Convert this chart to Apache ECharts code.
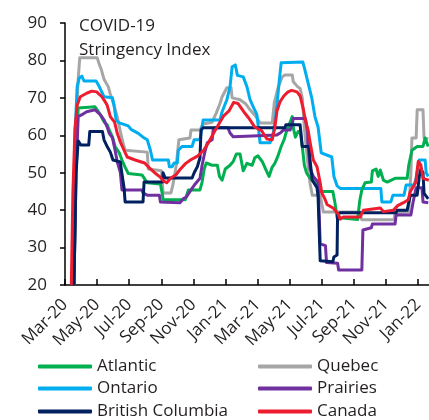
<!DOCTYPE html>
<html>
<head>
<meta charset="utf-8">
<script src="https://cdn.jsdelivr.net/npm/echarts@6/dist/echarts.min.js"></script>
<style>
  html, body { margin: 0; padding: 0; background: #fff; }
  #chart { width: 429px; height: 420px; }
</style>
</head>
<body>
<div id="chart"></div>
<script>
// COVID-19 stringency index by region
var monthLabels = ['Mar-20', 'May-20', 'Jul-20', 'Sep-20', 'Nov-20', 'Jan-21',
                   'Mar-21', 'May-21', 'Jul-21', 'Sep-21', 'Nov-21', 'Jan-22'];

var atlantic = [
    ['2020-03-18', 20], ['2020-03-22', 55], ['2020-03-26', 67.3], ['2020-04-27', 67.6],
    ['2020-05-01', 66.8], ['2020-05-07', 65.5], ['2020-05-14', 63.6], ['2020-05-20', 62.8],
    ['2020-05-24', 61.4], ['2020-05-30', 59.6], ['2020-06-04', 57], ['2020-06-12', 55.3],
    ['2020-06-17', 53.4], ['2020-06-23', 51.5], ['2020-06-29', 49.8], ['2020-07-25', 49.4],
    ['2020-08-04', 47.3], ['2020-08-29', 47], ['2020-09-02', 44], ['2020-09-03', 42.8],
    ['2020-10-15', 42.8], ['2020-10-19', 44.5], ['2020-10-21', 45.4], ['2020-11-12', 45.4],
    ['2020-11-16', 47.5], ['2020-11-20', 51], ['2020-11-24', 52.6], ['2020-12-05', 52],
    ['2020-12-15', 52], ['2020-12-19', 49], ['2020-12-24', 48], ['2020-12-30', 51],
    ['2021-01-08', 52], ['2021-01-14', 53], ['2021-01-20', 55], ['2021-01-27', 55],
    ['2021-02-02', 50.5], ['2021-02-09', 52.5], ['2021-02-19', 52], ['2021-02-24', 54],
    ['2021-03-02', 54.5], ['2021-03-10', 53], ['2021-03-18', 50.5], ['2021-03-23', 49],
    ['2021-03-29', 51.5], ['2021-04-03', 52.5], ['2021-04-09', 54.5], ['2021-04-15', 57],
    ['2021-04-21', 59], ['2021-04-26', 61.5], ['2021-05-02', 63.5], ['2021-05-06', 65],
    ['2021-05-08', 62], ['2021-05-12', 59.5], ['2021-05-17', 61], ['2021-05-21', 61],
    ['2021-05-25', 57], ['2021-05-29', 52], ['2021-06-02', 50], ['2021-06-09', 48.5],
    ['2021-06-21', 47], ['2021-06-24', 45], ['2021-07-22', 45], ['2021-07-26', 42],
    ['2021-07-30', 38], ['2021-09-07', 37.5], ['2021-09-11', 42.5], ['2021-09-15', 45.4],
    ['2021-09-21', 47.3], ['2021-10-03', 47.5], ['2021-10-05', 50.5], ['2021-10-12', 51],
    ['2021-10-16', 49], ['2021-10-20', 50.7], ['2021-10-26', 48], ['2021-11-02', 47.5],
    ['2021-11-17', 48.5], ['2021-12-10', 48.5], ['2021-12-13', 52], ['2021-12-19', 56],
    ['2021-12-29', 57], ['2022-01-09', 57], ['2022-01-13', 59.3], ['2022-01-19', 57]
];

var quebec = [
    ['2020-03-18', 20], ['2020-03-22', 62], ['2020-03-26', 75], ['2020-03-29', 80.7],
    ['2020-05-01', 80.7], ['2020-05-05', 79], ['2020-05-09', 77.5], ['2020-05-14', 75],
    ['2020-05-22', 73], ['2020-05-26', 71], ['2020-06-02', 68], ['2020-06-08', 65],
    ['2020-06-14', 61], ['2020-06-19', 58], ['2020-06-23', 56], ['2020-08-04', 55.5],
    ['2020-08-06', 51], ['2020-08-31', 50.5], ['2020-09-03', 44.6], ['2020-09-18', 44.6],
    ['2020-09-22', 47], ['2020-09-28', 52], ['2020-10-03', 58.8], ['2020-10-24', 59.3],
    ['2020-10-26', 61.4], ['2020-11-12', 61.4], ['2020-11-18', 63], ['2020-12-05', 63.5],
    ['2020-12-13', 66], ['2020-12-20', 68.5], ['2020-12-24', 70.3], ['2021-01-02', 72.7],
    ['2021-01-10', 72.7], ['2021-01-12', 70], ['2021-01-27', 69.5], ['2021-02-06', 68.5],
    ['2021-02-15', 66.8], ['2021-02-26', 65], ['2021-03-06', 63.3], ['2021-03-29', 63.3],
    ['2021-04-02', 68.7], ['2021-04-09', 72.7], ['2021-04-17', 75.6], ['2021-04-22', 76.1],
    ['2021-05-06', 76.1], ['2021-05-08', 74.3], ['2021-05-16', 73], ['2021-05-21', 72.5],
    ['2021-05-25', 70], ['2021-05-29', 62], ['2021-06-02', 56], ['2021-06-05', 52],
    ['2021-06-09', 47], ['2021-06-13', 44], ['2021-06-28', 44], ['2021-07-02', 41],
    ['2021-07-04', 39.5], ['2021-09-11', 39.5], ['2021-09-15', 37.4], ['2021-11-15', 37.4],
    ['2021-11-17', 39.3], ['2021-12-13', 39.5], ['2021-12-17', 50], ['2021-12-19', 59.3],
    ['2021-12-27', 59.3], ['2021-12-29', 66.8], ['2022-01-09', 66.8], ['2022-01-11', 59.3],
    ['2022-01-19', 59]
];

var ontario = [
    ['2020-03-16', 20], ['2020-03-20', 60], ['2020-03-24', 73], ['2020-03-28', 75.3],
    ['2020-04-02', 75.8], ['2020-04-06', 74.5], ['2020-04-29', 74.5], ['2020-05-05', 73],
    ['2020-05-14', 70.3], ['2020-05-30', 70], ['2020-06-02', 68], ['2020-06-06', 64],
    ['2020-06-12', 63.3], ['2020-06-29', 62.5], ['2020-07-05', 61.5], ['2020-07-18', 60.5],
    ['2020-07-27', 59.5], ['2020-08-04', 58.8], ['2020-08-10', 56], ['2020-08-14', 53.4],
    ['2020-09-13', 53.4], ['2020-09-15', 51.6], ['2020-09-20', 51.6], ['2020-09-24', 52.6],
    ['2020-09-30', 52.6], ['2020-10-02', 56], ['2020-10-09', 57], ['2020-10-28', 57],
    ['2020-11-01', 58.8], ['2020-11-12', 58.8], ['2020-11-18', 64.1], ['2020-12-20', 64.1],
    ['2020-12-24', 66.3], ['2021-01-02', 69.5], ['2021-01-08', 73], ['2021-01-12', 78.3],
    ['2021-01-18', 78.8], ['2021-01-22', 76], ['2021-02-02', 75.6], ['2021-02-09', 73],
    ['2021-02-15', 69.5], ['2021-02-21', 67.6], ['2021-02-28', 65.5], ['2021-03-06', 58],
    ['2021-03-25', 58], ['2021-03-31', 60.6], ['2021-04-04', 64.7], ['2021-04-08', 69.5],
    ['2021-04-11', 74], ['2021-04-15', 79.4], ['2021-05-26', 79.6], ['2021-05-30', 77.5],
    ['2021-06-05', 74], ['2021-06-12', 70], ['2021-06-18', 65], ['2021-06-24', 62.2],
    ['2021-06-30', 55.3], ['2021-07-20', 54.2], ['2021-07-24', 49], ['2021-07-30', 46.5],
    ['2021-08-05', 45.8], ['2021-10-21', 45.8], ['2021-10-23', 42.2], ['2021-11-09', 42.2],
    ['2021-11-13', 44], ['2021-12-04', 44], ['2021-12-08', 46.7], ['2021-12-23', 46.7],
    ['2021-12-27', 48.5], ['2022-01-02', 53.4], ['2022-01-13', 53.4], ['2022-01-15', 50],
    ['2022-01-19', 49]
];

var prairies = [
    ['2020-03-18', 20], ['2020-03-22', 50], ['2020-03-26', 65], ['2020-04-02', 65.5],
    ['2020-04-11', 66.3], ['2020-04-27', 66.8], ['2020-05-07', 65.5], ['2020-05-14', 64.1],
    ['2020-05-20', 62.2], ['2020-05-24', 60.5], ['2020-05-30', 59.3], ['2020-06-04', 56],
    ['2020-06-08', 53], ['2020-06-14', 50], ['2020-06-17', 45.4], ['2020-07-25', 45.4],
    ['2020-07-27', 44.6], ['2020-08-04', 44], ['2020-08-27', 44], ['2020-08-29', 42.2],
    ['2020-10-05', 42], ['2020-10-11', 43], ['2020-10-17', 43.5], ['2020-10-26', 45.4],
    ['2020-11-03', 47], ['2020-11-12', 48.5], ['2020-11-16', 52], ['2020-11-22', 56],
    ['2020-11-26', 58], ['2020-12-05', 58.8], ['2020-12-07', 61.4], ['2020-12-11', 62],
    ['2021-01-04', 62], ['2021-01-08', 60.6], ['2021-01-14', 59.6], ['2021-04-07', 60.1],
    ['2021-04-13', 60.6], ['2021-04-19', 61.4], ['2021-05-02', 61.4], ['2021-05-06', 63.3],
    ['2021-05-08', 64.5], ['2021-05-31', 64.5], ['2021-06-04', 61], ['2021-06-05', 57],
    ['2021-06-09', 51], ['2021-06-15', 49], ['2021-06-24', 47.5], ['2021-06-28', 31],
    ['2021-07-08', 30.5], ['2021-07-10', 26], ['2021-07-31', 25.8], ['2021-08-02', 24],
    ['2021-09-15', 24], ['2021-09-17', 34.7], ['2021-10-03', 35.3], ['2021-10-05', 36.3],
    ['2021-11-17', 36.3], ['2021-11-19', 38.7], ['2021-12-17', 38.7], ['2021-12-21', 42],
    ['2021-12-27', 46], ['2022-01-07', 46], ['2022-01-09', 42.2], ['2022-01-19', 42]
];

var britishColumbia = [
    ['2020-03-18', 20], ['2020-03-22', 50], ['2020-03-26', 58.5], ['2020-03-31', 57.4],
    ['2020-04-15', 57.4], ['2020-04-17', 61], ['2020-05-11', 61], ['2020-05-14', 58.8],
    ['2020-05-20', 57], ['2020-05-26', 55.5], ['2020-05-31', 53.4], ['2020-06-14', 52.9],
    ['2020-06-16', 50.7], ['2020-06-21', 46], ['2020-06-23', 42.2], ['2020-07-27', 42.2],
    ['2020-07-29', 47.5], ['2020-09-02', 47.5], ['2020-09-03', 50], ['2020-09-07', 48.6],
    ['2020-10-28', 48.6], ['2020-11-01', 50], ['2020-11-07', 51.6], ['2020-11-12', 54],
    ['2020-11-14', 61.4], ['2020-11-18', 62], ['2021-04-22', 62], ['2021-04-24', 62.8],
    ['2021-05-21', 62.8], ['2021-05-25', 57], ['2021-06-07', 57], ['2021-06-09', 53],
    ['2021-06-13', 48], ['2021-06-22', 46], ['2021-06-24', 43.5], ['2021-06-28', 26.5],
    ['2021-07-22', 26.2], ['2021-07-24', 27.5], ['2021-07-30', 28], ['2021-07-31', 39],
    ['2021-08-05', 39.3], ['2021-11-19', 39.3], ['2021-11-21', 40], ['2021-12-10', 40],
    ['2021-12-12', 41.4], ['2021-12-16', 44], ['2021-12-29', 44], ['2022-01-02', 49],
    ['2022-01-05', 51], ['2022-01-09', 50], ['2022-01-11', 44.5], ['2022-01-19', 43]
];

var canada = [
    ['2020-03-13', 20], ['2020-03-16', 45], ['2020-03-20', 62], ['2020-03-24', 68],
    ['2020-03-30', 70.3], ['2020-04-12', 71.3], ['2020-04-21', 71.8], ['2020-04-30', 71.6],
    ['2020-05-10', 70.3], ['2020-05-16', 69], ['2020-05-20', 68], ['2020-05-26', 65],
    ['2020-06-03', 63.5], ['2020-06-08', 60.6], ['2020-06-14', 58.2], ['2020-06-21', 56],
    ['2020-06-27', 54.2], ['2020-07-12', 53.4], ['2020-07-30', 52.6], ['2020-08-08', 51.3],
    ['2020-08-18', 50], ['2020-08-28', 48.9], ['2020-09-04', 47.8], ['2020-09-10', 47.3],
    ['2020-09-17', 48.5], ['2020-09-27', 49.4], ['2020-10-06', 51], ['2020-10-16', 52.5],
    ['2020-10-25', 53.4], ['2020-11-08', 54.5], ['2020-11-19', 56], ['2020-11-28', 58],
    ['2020-12-08', 60.6], ['2020-12-17', 62.8], ['2020-12-27', 65.2], ['2021-01-06', 66.5],
    ['2021-01-15', 68.8], ['2021-01-23', 68.5], ['2021-02-03', 66.3], ['2021-02-12', 64.7],
    ['2021-02-24', 62.2], ['2021-03-09', 61.2], ['2021-03-19', 59], ['2021-03-29', 58.8],
    ['2021-04-03', 62], ['2021-04-07', 66.5], ['2021-04-13', 69], ['2021-04-20', 70.5],
    ['2021-04-28', 71.6], ['2021-05-05', 72], ['2021-05-15', 71.6], ['2021-05-21', 70.5],
    ['2021-05-27', 67], ['2021-05-31', 64], ['2021-06-05', 61.4], ['2021-06-09', 58],
    ['2021-06-15', 53.4], ['2021-06-22', 51.6], ['2021-06-28', 47.3], ['2021-07-01', 44.6],
    ['2021-07-07', 43], ['2021-07-11', 41.5], ['2021-07-23', 40.5], ['2021-08-01', 39],
    ['2021-08-05', 37.6], ['2021-08-11', 38.2], ['2021-09-12', 38.2], ['2021-09-18', 40],
    ['2021-10-20', 40.6], ['2021-10-26', 39.6], ['2021-11-14', 40], ['2021-11-22', 41.2],
    ['2021-12-03', 42], ['2021-12-12', 42.8], ['2021-12-16', 45], ['2021-12-26', 47.3],
    ['2021-12-31', 53], ['2022-01-05', 52], ['2022-01-09', 48.5], ['2022-01-20', 48]
];

// months since 1 Mar 2020, so ticks fall every 2 months
var START = Date.parse('2020-03-01');
var toMonths = function(list) {
    return list.map(function(d) {
        return [(Date.parse(d[0]) - START) / 86400000 / 30.44, d[1]];
    });
};

var FONT = '"Open Sans", "Noto Sans", sans-serif';
var TXT = '#231f20';

var mkLine = function(name, data, color) {
    return {
        name: name,
        type: 'line',
        data: toMonths(data),
        showSymbol: false,
        symbol: 'none',
        lineStyle: { width: 3, color: color, join: 'round' },
        itemStyle: { color: color },
        z: 2
    };
};

// one legend entry per slot: two columns, three rows
var mkLegend = function(name, left, top) {
    return {
        data: [name],
        left: left,
        top: top,
        padding: 0,
        itemWidth: 54,
        itemHeight: 4,
        itemGap: 0,
        icon: 'roundRect',
        textStyle: { fontFamily: FONT, fontSize: 17, color: TXT }
    };
};

var chart = echarts.init(document.getElementById('chart'));
var option = {
    animation: false,
    backgroundColor: '#fff',
    title: {
        text: 'COVID-19\nStringency Index',
        left: 74,
        top: 9,
        textStyle: { fontFamily: FONT, fontSize: 17, fontWeight: 'normal', color: TXT, lineHeight: 24 }
    },
    grid: { left: 65, right: 0, top: 23, bottom: 135 },
    legend: [
        mkLegend('Atlantic', 38, 358),
        mkLegend('Ontario', 38, 380),
        mkLegend('British Columbia', 38, 403),
        mkLegend('Quebec', 258, 358),
        mkLegend('Prairies', 258, 380),
        mkLegend('Canada', 258, 403)
    ],
    xAxis: {
        type: 'value',
        min: 0,
        max: 22.68,
        interval: 2,
        splitLine: { show: false },
        axisLine: { lineStyle: { color: '#000', width: 1.5 } },
        axisTick: { inside: true, length: 6, lineStyle: { color: '#000', width: 1.5 } },
        axisLabel: {
            rotate: 45,
            margin: 17,
            showMaxLabel: false,
            fontFamily: FONT,
            fontSize: 17,
            color: TXT,
            formatter: function(v) { return monthLabels[Math.round(v / 2)] || ''; }
        }
    },
    yAxis: {
        type: 'value',
        min: 20,
        max: 90,
        interval: 10,
        splitLine: { show: false },
        axisLine: { show: true, lineStyle: { color: '#000', width: 1.5 } },
        axisTick: { show: true, length: 5, lineStyle: { color: '#000', width: 1.5 } },
        axisLabel: { margin: 18, fontFamily: FONT, fontSize: 17, color: TXT }
    },
    series: [
        mkLine('Quebec', quebec, '#a6a6a6'),
        mkLine('Ontario', ontario, '#00aeef'),
        mkLine('Atlantic', atlantic, '#00b050'),
        mkLine('Prairies', prairies, '#7030a0'),
        mkLine('British Columbia', britishColumbia, '#002060'),
        mkLine('Canada', canada, '#ed1c2e')
    ]
};
chart.setOption(option);
</script>
</body>
</html>
